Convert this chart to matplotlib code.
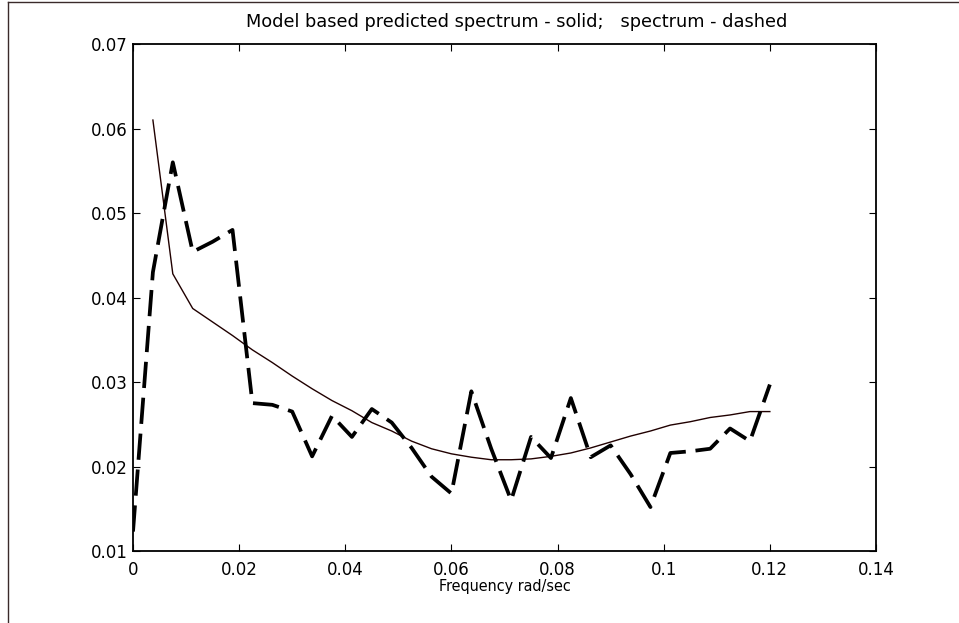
import numpy as np
import matplotlib.pyplot as plt
from matplotlib.lines import Line2D
from matplotlib.ticker import FuncFormatter

plt.rcParams['font.family'] = ['DejaVu Sans']

# frequency grid (rad/sec)
freq_dashed = [0.0, 0.00375, 0.0075, 0.01125, 0.015, 0.01875, 0.0225, 0.02625,
               0.030, 0.03375, 0.0375, 0.04125, 0.045, 0.04875, 0.0525, 0.05625,
               0.060, 0.06375, 0.0675, 0.07125, 0.075, 0.07875, 0.0825, 0.08625,
               0.090, 0.09375, 0.0975, 0.10125, 0.105, 0.10875, 0.1125, 0.11625,
               0.120]
spectrum = [0.0123, 0.0430, 0.0560, 0.0454, 0.0466, 0.0480, 0.0275, 0.0273,
            0.0265, 0.0212, 0.0260, 0.0235, 0.0268, 0.0252, 0.0222, 0.0188,
            0.0168, 0.0289, 0.0221, 0.0160, 0.0235, 0.0210, 0.0281, 0.0211,
            0.0225, 0.0191, 0.0152, 0.0216, 0.0218, 0.0221, 0.0245, 0.0230,
            0.0297]

freq_model = freq_dashed[1:]
model = [0.0610, 0.0428, 0.0387, 0.0371, 0.0355, 0.0338, 0.0323, 0.0307,
         0.0292, 0.0278, 0.0266, 0.0252, 0.0242, 0.0230, 0.0221, 0.0215,
         0.0211, 0.0208, 0.0208, 0.0209, 0.0212, 0.0216, 0.0222, 0.0229,
         0.0236, 0.0242, 0.0249, 0.0253, 0.0258, 0.0261, 0.0265, 0.0265]

xticks = [0, 0.02, 0.04, 0.06, 0.08, 0.1, 0.12, 0.14]
yticks = [0.01, 0.02, 0.03, 0.04, 0.05, 0.06, 0.07]

fig = plt.figure(figsize=(9.59, 6.23), dpi=100)
ax = fig.add_axes([133 / 959, 72 / 623, 743 / 959, 507 / 623])

ax.plot(freq_model, model, color='#200000', lw=1.0)
ax.plot(freq_dashed, spectrum, color='black', lw=2.7,
        dashes=(7.0, 2.6), solid_capstyle='butt', dash_capstyle='butt')

ax.set_xlim(0, 0.14)
ax.set_ylim(0.01, 0.07)
ax.set_xticks(xticks)
ax.set_yticks(yticks)
fmt = FuncFormatter(lambda v, p: '%g' % v)
ax.xaxis.set_major_formatter(fmt)
ax.yaxis.set_major_formatter(fmt)
ax.tick_params(direction='in', length=5, width=0.8, labelsize=12,
               top=True, right=True)
ax.tick_params(axis='x', pad=7)
ax.tick_params(axis='y', pad=4)
for s in ax.spines.values():
    s.set_linewidth(1.3)

ax.set_xlabel('Frequency rad/sec', fontsize=11.5, fontstretch='condensed', labelpad=0)
ax.text(0.516, 1 + 22 / 507, 'Model based predicted spectrum - solid;   spectrum - dashed',
        transform=ax.transAxes, ha='center', va='center', fontsize=12.8)

# figure frame (partially cropped)
fig.add_artist(Line2D([8 / 959, 8 / 959], [0, 1 - 2 / 623], transform=fig.transFigure,
                      color='#3a2a2a', lw=1.0))
fig.add_artist(Line2D([8 / 959, 1], [1 - 2 / 623, 1 - 2 / 623], transform=fig.transFigure,
                      color='#3a2a2a', lw=1.0))

fig.savefig('out.png', dpi=100)
